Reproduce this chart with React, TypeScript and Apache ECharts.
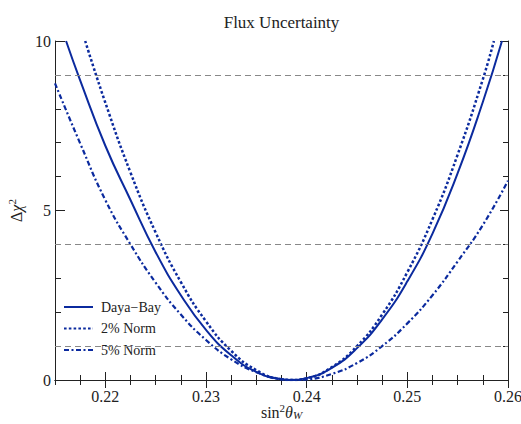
import React, { useEffect, useRef } from "react";
import * as echarts from "echarts";

// ---- data ----
const dayaX = [0.2161, 0.2175, 0.22, 0.2225, 0.225, 0.2275, 0.23, 0.2325, 0.235, 0.2375, 0.2384, 0.24, 0.2425, 0.245, 0.2475, 0.25, 0.2525, 0.255, 0.2575, 0.2594];
const dayaY = [10, 8.84, 6.91, 5.31, 3.77, 2.5, 1.48, 0.73, 0.24, 0.02, 0, 0.055, 0.36, 0.94, 1.79, 2.91, 4.32, 6.1, 8.2, 10];

const norm2X = [0.218, 0.22, 0.2225, 0.225, 0.2275, 0.23, 0.2325, 0.235, 0.2375, 0.2385, 0.24, 0.2425, 0.245, 0.2475, 0.25, 0.2525, 0.255, 0.2575, 0.2586];
const norm2Y = [10, 8.18, 6.12, 4.35, 2.89, 1.73, 0.86, 0.29, 0.02, 0, 0.05, 0.38, 1.0, 1.93, 3.18, 4.74, 6.65, 8.87, 10];

const norm5X = [0.215, 0.2175, 0.22, 0.2225, 0.225, 0.2275, 0.23, 0.2325, 0.235, 0.2375, 0.2389, 0.24, 0.2425, 0.245, 0.2475, 0.25, 0.2525, 0.255, 0.2575, 0.26];
const norm5Y = [8.75, 6.98, 5.31, 4.0, 2.87, 1.93, 1.18, 0.61, 0.23, 0.03, 0, 0.016, 0.18, 0.5, 1.0, 1.67, 2.5, 3.5, 4.57, 5.88];

const seriesNames = ["Daya\u2212Bay", "2% Norm", "5% Norm"];
const chiLevels = [1, 4, 9];
const xMajorTicks = [0.22, 0.23, 0.24, 0.25, 0.26];
const yMajorTicks = [0, 5, 10];
const titleText = "Flux Uncertainty";
const xAxisTitle = "sin{sup|2}{it|\u03b8}{sub|W}";

const X_MIN = 0.215, X_MAX = 0.26, Y_MIN = 0, Y_MAX = 10;
const FONT = "'Liberation Serif', 'Times New Roman', serif";
const BLUE = "#0b2a9e";

const zip = (xs: number[], ys: number[]) => xs.map((x, i) => [x, ys[i]]);

export default function App() {
  const ref = useRef<HTMLDivElement>(null);
  useEffect(() => {
    if (!ref.current) return;
    const chart = echarts.init(ref.current, null, { renderer: "svg" });
    const axisLine = { show: true, lineStyle: { color: "#222", width: 1 } };
    const baseX = {
      type: "value" as const, min: X_MIN, max: X_MAX, gridIndex: 0,
      splitLine: { show: false },
    };
    const baseY = {
      type: "value" as const, min: Y_MIN, max: Y_MAX, gridIndex: 0,
      splitLine: { show: false },
    };
    chart.setOption({
      animation: false,
      backgroundColor: "#fff",
      textStyle: { fontFamily: FONT },
      grid: { left: 55, right: 13, top: 41, bottom: 44, containLabel: false, outerBoundsMode: "none" },
      graphic: [
        {
          type: "text", x: 281.5, y: 22,
          style: { text: titleText, fontFamily: FONT, fontSize: 17, fill: "#222", textAlign: "center", textVerticalAlign: "middle" },
        },
        {
          type: "text", x: 281.5, y: 412,
          style: {
            text: xAxisTitle, fontFamily: FONT, fontSize: 16, fill: "#222",
            textAlign: "center", textVerticalAlign: "middle",
            rich: {
              sup: { fontFamily: FONT, fontSize: 11, fill: "#222", padding: [0, 0, 8, 0] },
              it: { fontFamily: FONT, fontSize: 16, fill: "#222", fontStyle: "italic" },
              sub: { fontFamily: FONT, fontSize: 11, fill: "#222", fontStyle: "italic", padding: [5, 0, 0, 0] },
            },
          },
        },
      ],
      legend: {
        orient: "vertical", left: 58, top: 295,
        itemWidth: 29, itemHeight: 14, itemGap: 7.5,
        itemStyle: { opacity: 0 },
        textStyle: { fontFamily: FONT, fontSize: 14, color: "#222", padding: [0, 0, 0, 3] },
        data: seriesNames,
      },
      xAxis: [
        {
          ...baseX, position: "bottom", interval: 0.0025,
          axisLine,
          axisTick: { show: true, inside: true, length: 5, lineStyle: { color: "#222" } },
          axisLabel: {
            show: true, customValues: xMajorTicks, margin: 8,
            fontFamily: FONT, fontSize: 16, color: "#222",
            formatter: (v: number) => v.toFixed(2),
          },
        },
        {
          ...baseX, position: "bottom", axisLine: { show: false },
          axisTick: { show: true, inside: true, length: 8, customValues: xMajorTicks, lineStyle: { color: "#222" } },
          axisLabel: { show: false },
        },
        {
          ...baseX, position: "top", interval: 0.0025, axisLine,
          axisTick: { show: true, inside: true, length: 5, lineStyle: { color: "#222" } },
          axisLabel: { show: false },
        },
        {
          ...baseX, position: "top", axisLine: { show: false },
          axisTick: { show: true, inside: true, length: 8, customValues: xMajorTicks, lineStyle: { color: "#222" } },
          axisLabel: { show: false },
        },
      ],
      yAxis: [
        {
          ...baseY, position: "left", interval: 1, axisLine,
          axisTick: { show: true, inside: true, length: 6, lineStyle: { color: "#222" } },
          axisLabel: {
            show: true, customValues: yMajorTicks, margin: 4,
            fontFamily: FONT, fontSize: 16, color: "#222",
          },
          name: "\u0394{it|\u03c7}{sup|2}",
          nameLocation: "middle", nameGap: 23, nameRotate: 90,
          nameTextStyle: {
            fontFamily: FONT, fontSize: 16, color: "#222",
            rich: {
              it: { fontFamily: FONT, fontSize: 16, fontStyle: "italic" },
              sup: { fontFamily: FONT, fontSize: 11, verticalAlign: "top", padding: [0, 0, 8, 0] },
            },
          },
        },
        {
          ...baseY, position: "left", axisLine: { show: false },
          axisTick: { show: true, inside: true, length: 10, customValues: yMajorTicks, lineStyle: { color: "#222" } },
          axisLabel: { show: false },
        },
        {
          ...baseY, position: "right", interval: 1, axisLine,
          axisTick: { show: true, inside: true, length: 5, lineStyle: { color: "#222" } },
          axisLabel: { show: false },
        },
        {
          ...baseY, position: "right", axisLine: { show: false },
          axisTick: { show: true, inside: true, length: 8, customValues: yMajorTicks, lineStyle: { color: "#222" } },
          axisLabel: { show: false },
        },
      ],
      series: [
        {
          name: seriesNames[0], type: "line", xAxisIndex: 0, yAxisIndex: 0,
          data: zip(dayaX, dayaY), smooth: true, symbol: "none", z: 3,
          lineStyle: { color: BLUE, width: 2, type: "solid" },
          itemStyle: { color: BLUE },
          markLine: {
            silent: true, symbol: "none", label: { show: false },
            lineStyle: { color: "#888", width: 1, type: [6, 4] },
            data: chiLevels.map((v) => ({ yAxis: v })),
          },
        },
        {
          name: seriesNames[1], type: "line", xAxisIndex: 0, yAxisIndex: 0,
          data: zip(norm2X, norm2Y), smooth: true, symbol: "none", z: 3,
          lineStyle: { color: BLUE, width: 2.5, type: [2.6, 2.2] },
          itemStyle: { color: BLUE },
        },
        {
          name: seriesNames[2], type: "line", xAxisIndex: 0, yAxisIndex: 0,
          data: zip(norm5X, norm5Y), smooth: true, symbol: "none", z: 3,
          lineStyle: { color: BLUE, width: 2.2, type: [5, 2.5, 2, 2.5] },
          itemStyle: { color: BLUE },
        },
      ],
    });
    return () => chart.dispose();
  }, []);
  return <div ref={ref} style={{ width: 521, height: 424, position: "fixed", left: 0, top: 0 }} />;
}
